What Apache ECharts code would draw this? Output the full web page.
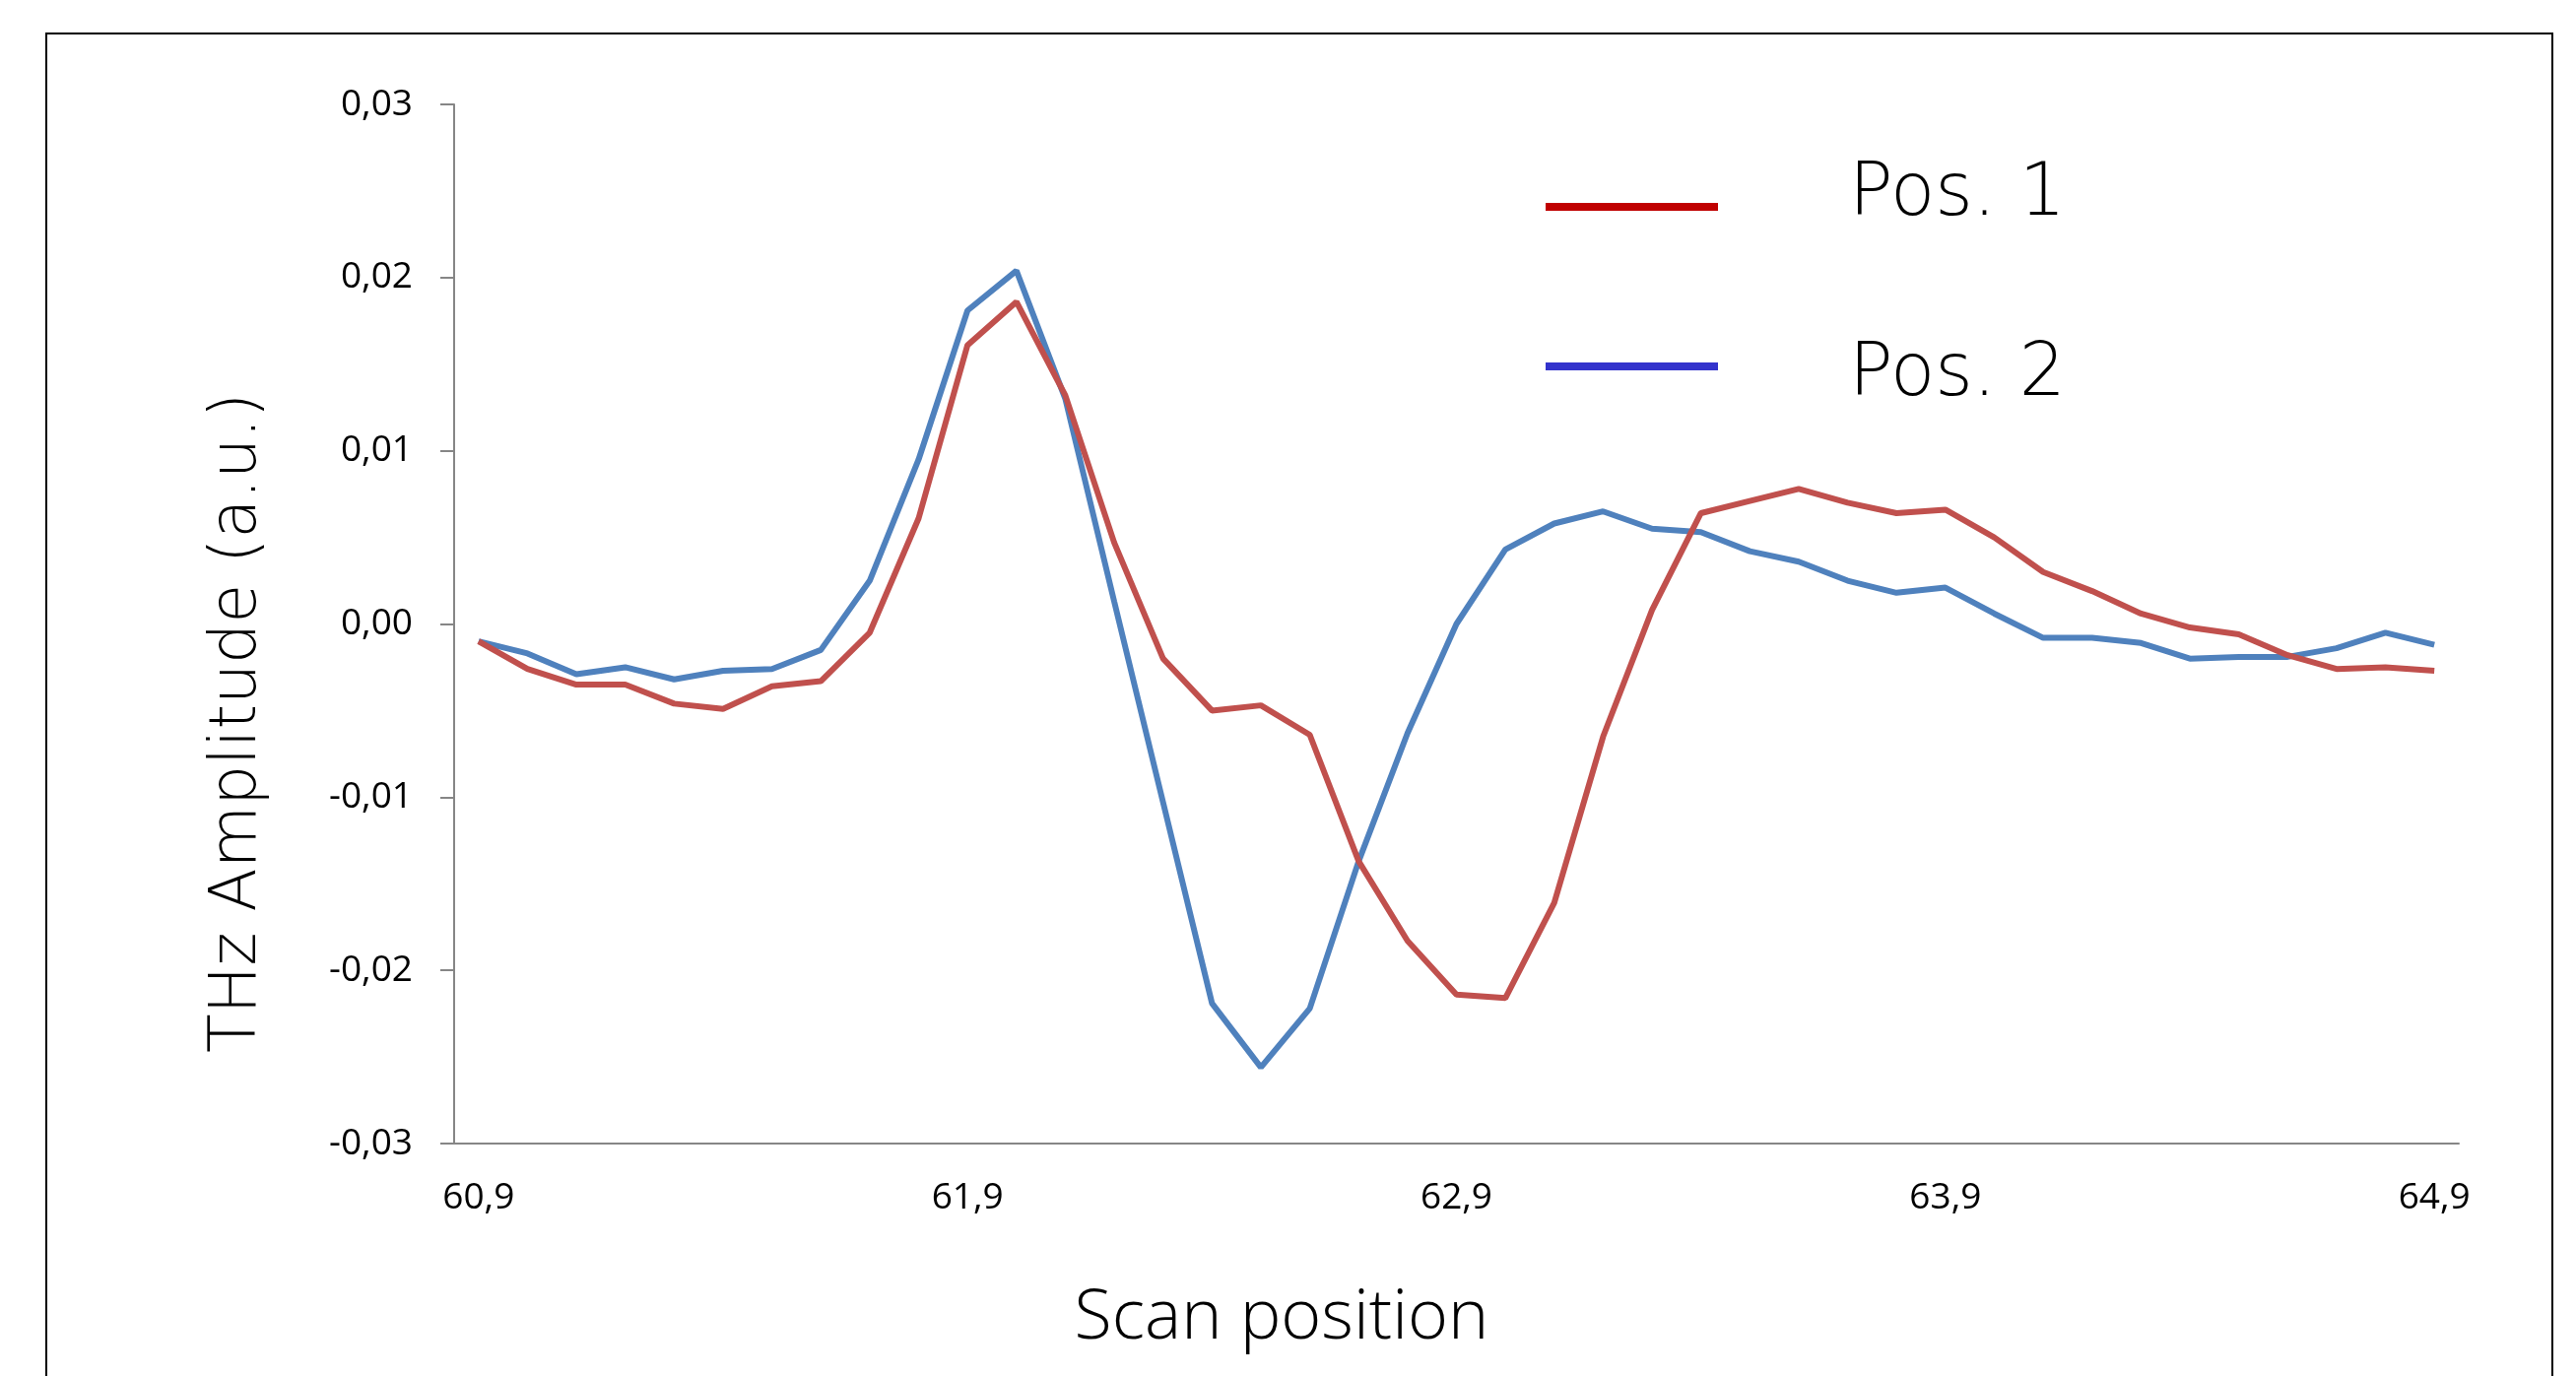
<!DOCTYPE html>
<html>
<head>
<meta charset="utf-8">
<script src="https://cdn.jsdelivr.net/npm/echarts@6/dist/echarts.min.js"></script>
<style>
  html, body { margin: 0; padding: 0; background: #fff; }
  #chart { width: 2615px; height: 1397px; }
</style>
</head>
<body>
<div id="chart"></div>
<script>
const positions = [
  "60,9", "61,0", "61,1", "61,2", "61,3", "61,4", "61,5", "61,6", "61,7", "61,8",
  "61,9", "62,0", "62,1", "62,2", "62,3", "62,4", "62,5", "62,6", "62,7", "62,8",
  "62,9", "63,0", "63,1", "63,2", "63,3", "63,4", "63,5", "63,6", "63,7", "63,8",
  "63,9", "64,0", "64,1", "64,2", "64,3", "64,4", "64,5", "64,6", "64,7", "64,8",
  "64,9"
];
const pos1 = [
  -0.0010, -0.0026, -0.0035, -0.0035, -0.0046, -0.0049, -0.0036, -0.0033, -0.0005, 0.0061,
  0.0161, 0.0186, 0.0132, 0.0047, -0.0020, -0.0050, -0.0047, -0.0064, -0.0137, -0.0183,
  -0.0214, -0.0216, -0.0161, -0.0065, 0.0008, 0.0064, 0.0071, 0.0078, 0.0070, 0.0064,
  0.0066, 0.0050, 0.0030, 0.0019, 0.0006, -0.0002, -0.0006, -0.0018, -0.0026, -0.0025,
  -0.0027
];
const pos2 = [
  -0.0010, -0.0017, -0.0029, -0.0025, -0.0032, -0.0027, -0.0026, -0.0015, 0.0025, 0.0095,
  0.0181, 0.0204, 0.0130, 0.0013, -0.0103, -0.0219, -0.0256, -0.0222, -0.0137, -0.0063,
  0.0000, 0.0043, 0.0058, 0.0065, 0.0055, 0.0053, 0.0042, 0.0036, 0.0025, 0.0018,
  0.0021, 0.0006, -0.0008, -0.0008, -0.0011, -0.0020, -0.0019, -0.0019, -0.0014, -0.0005,
  -0.0012
];
const seriesNames = ["Pos. 1", "Pos. 2"];
const lineColors = ["#C0504D", "#4F81BD"];
const legendColors = ["#C00000", "#3333CC"];

const labelFont = "'Open Sans', 'Liberation Sans', sans-serif";
const titleFont = "'Open Sans', 'Lato', sans-serif";
const wideFont = "'DejaVu Sans', 'Open Sans', sans-serif";
const axisGray = "#868686";

const chart = echarts.init(document.getElementById("chart"));

const fmt = (v) => {
  const s = (Math.abs(v) < 1e-9 ? 0 : v).toFixed(2);
  return s.replace(".", ",");
};

// rich tokens so that "Pos. 1" can sit a little above its line, as in the original
const legendToken = (pad) => ({
  fontFamily: wideFont,
  fontWeight: 200,
  fontSize: 74,
  lineHeight: 80,
  color: "#000",
  padding: pad
});

chart.setOption({
  animation: false,
  backgroundColor: "#fff",
  grid: { left: 461, right: 119, top: 106, bottom: 236 },
  legend: {
    orient: "vertical",
    left: 1564,
    top: 157,
    icon: "rect",
    itemWidth: 175,
    itemHeight: 8,
    itemGap: 67,
    data: [
      { name: seriesNames[0], itemStyle: { color: legendColors[0] } },
      { name: seriesNames[1], itemStyle: { color: legendColors[1] } }
    ],
    formatter: (name) => (name === seriesNames[0] ? `{up|${name}}` : `{dn|${name}}`),
    textStyle: {
      fontFamily: wideFont,
      fontWeight: 200,
      fontSize: 74,
      color: "#000",
      padding: [0, 0, 0, 128],
      rich: {
        up: legendToken([0, 0, 22, 0]),
        dn: legendToken([20, 0, 0, 0])
      }
    }
  },
  xAxis: {
    type: "category",
    data: positions,
    boundaryGap: true,
    axisLine: { onZero: false, lineStyle: { color: axisGray, width: 2 } },
    axisTick: { interval: 0, length: 14, lineStyle: { color: axisGray, width: 2 } },
    axisLabel: {
      interval: 9,
      margin: 37,
      color: "#000",
      fontFamily: labelFont,
      fontSize: 37
    },
    splitLine: { show: false }
  },
  yAxis: {
    type: "value",
    min: -0.03,
    max: 0.03,
    interval: 0.01,
    axisLine: { show: true, lineStyle: { color: axisGray, width: 2 } },
    axisTick: { show: true, length: 14, lineStyle: { color: axisGray, width: 2 } },
    axisLabel: {
      margin: 42,
      color: "#000",
      fontFamily: labelFont,
      fontSize: 37,
      formatter: fmt
    },
    splitLine: { show: false }
  },
  series: [
    {
      name: seriesNames[0],
      type: "line",
      data: pos1,
      z: 3,
      symbol: "none",
      lineStyle: { color: lineColors[0], width: 6 },
      itemStyle: { color: lineColors[0] }
    },
    {
      name: seriesNames[1],
      type: "line",
      data: pos2,
      z: 2,
      symbol: "none",
      lineStyle: { color: lineColors[1], width: 6 },
      itemStyle: { color: lineColors[1] }
    }
  ],
  graphic: [
    {
      type: "rect",
      silent: true,
      shape: { x: 47, y: 34, width: 2544, height: 1400 },
      style: { fill: null, stroke: "#000", lineWidth: 2 }
    },
    {
      type: "text",
      x: 242,
      y: 734,
      rotation: Math.PI / 2,
      style: {
        text: "THz Amplitude (a.u.)",
        fontFamily: wideFont,
        fontWeight: 200,
        fontSize: 65,
        fill: "#000",
        align: "center",
        verticalAlign: "middle"
      }
    },
    {
      type: "text",
      x: 1301,
      y: 1339,
      style: {
        text: "Scan position",
        fontFamily: titleFont,
        fontWeight: 300,
        fontSize: 70,
        fill: "#000",
        align: "center",
        verticalAlign: "middle"
      }
    }
  ]
});
</script>
</body>
</html>
